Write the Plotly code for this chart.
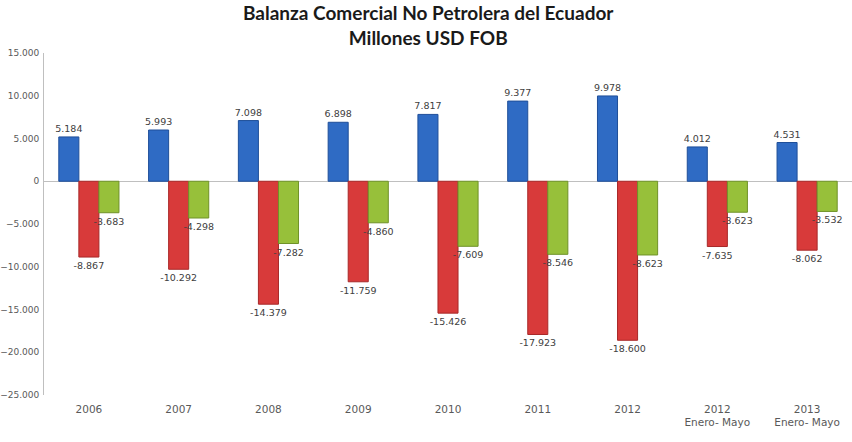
import plotly.graph_objects as go

categories = ["2006", "2007", "2008", "2009", "2010", "2011", "2012",
              "2012<br>Enero- Mayo", "2013<br>Enero- Mayo"]
exportaciones = [5184, 5993, 7098, 6898, 7817, 9377, 9978, 4012, 4531]
importaciones = [-8867, -10292, -14379, -11759, -15426, -17923, -18600, -7635, -8062]
balanza = [-3683, -4298, -7282, -4860, -7609, -8546, -8623, -3623, -3532]
y_ticks = [15000, 10000, 5000, 0, -5000, -10000, -15000, -20000, -25000]
title_text = "Balanza Comercial No Petrolera del Ecuador<br>Millones USD FOB"

series = [
    ("Exportaciones", exportaciones, "#2f6bc4", "#1f4f99"),
    ("Importaciones", importaciones, "#d83a3a", "#a82828"),
    ("Balanza", balanza, "#97c03a", "#6f9228"),
]

fig = go.Figure()
for name, vals, col, line in series:
    fig.add_trace(go.Bar(
        x=categories, y=vals, name=name,
        marker=dict(color=col, line=dict(color=line, width=1)),
        texttemplate="%{y:,.0f}", textposition="outside",
        constraintext="none",
        textfont=dict(family="DejaVu Sans", size=9.5, color="#404040"),
        cliponaxis=False,
    ))

W, H = 852, 442
ML, MR, MT, MB = 44, 0, 53, 47
plot_w, plot_h = W - ML - MR, H - MT - MB

fig.add_annotation(
    text=title_text, showarrow=False,
    xref="paper", yref="paper",
    x=(428 - ML) / plot_w, y=(H - MB - 24.5) / plot_h,
    xanchor="center", yanchor="middle",
    font=dict(family="Lato", size=19, color="#1a1a1a", weight="bold"),
)

fig.update_layout(
    width=W, height=H,
    margin=dict(l=ML, r=MR, t=MT, b=MB, autoexpand=False),
    paper_bgcolor="white", plot_bgcolor="white",
    separators=",.",
    barmode="group", bargap=0.33, bargroupgap=0,
    showlegend=False,
)
fig.update_yaxes(
    range=[-25000, 15000], tickvals=y_ticks, tickformat=",.0f",
    showgrid=False, zeroline=True, zerolinecolor="#bfbfbf", zerolinewidth=1,
    showline=True, linecolor="#bfbfbf", linewidth=1, automargin=False,
    ticks="", tickfont=dict(family="DejaVu Sans", size=9, color="#595959"),
    ticklabelstandoff=2,
)
fig.update_xaxes(
    showgrid=False, showline=False, ticks="", automargin=False,
    tickfont=dict(family="DejaVu Sans", size=10.5, color="#595959"),
    ticklabelstandoff=6,
)

fig.write_html("out.html")
